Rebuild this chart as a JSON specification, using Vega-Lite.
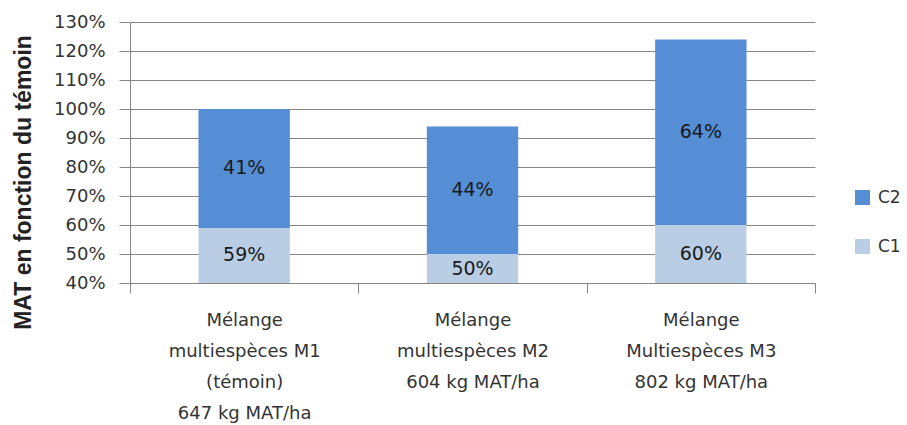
{
  "$schema": "https://vega.github.io/schema/vega-lite/v6.json",
  "width": 685,
  "height": 261,
  "autosize": {"type": "none"},
  "padding": {"left": 130, "top": 22, "right": 92, "bottom": 142},
  "background": "white",
  "config": {
    "font": "DejaVu Sans",
    "view": {"stroke": null},
    "axisY": {
      "title": "MAT en fonction  du témoin",
      "titleFont": "Liberation Sans",
      "titleFontSize": 23,
      "titleFontWeight": "bold",
      "titleColor": "#222222",
      "titleAngle": -90,
      "titleAlign": "center",
      "titleBaseline": "middle",
      "titleX": -107,
      "titleY": 160,
      "format": ".0%",
      "labelFontSize": 18,
      "labelColor": "#333333",
      "labelPadding": 14,
      "labelOverlap": false,
      "tickSize": 11,
      "tickColor": "#868686",
      "domainColor": "#868686",
      "gridColor": "#868686",
      "grid": true
    }
  },
  "data": {
    "values": [
      {"melange": "Mélange|multiespèces M1|(témoin)|647 kg MAT/ha", "coupe": "C1", "part": 0.59},
      {"melange": "Mélange|multiespèces M1|(témoin)|647 kg MAT/ha", "coupe": "C2", "part": 0.41},
      {"melange": "Mélange|multiespèces M2|604 kg MAT/ha", "coupe": "C1", "part": 0.50},
      {"melange": "Mélange|multiespèces M2|604 kg MAT/ha", "coupe": "C2", "part": 0.44},
      {"melange": "Mélange|Multiespèces M3|802 kg MAT/ha", "coupe": "C1", "part": 0.60},
      {"melange": "Mélange|Multiespèces M3|802 kg MAT/ha", "coupe": "C2", "part": 0.64}
    ]
  },
  "transform": [
    {"stack": "part", "groupby": ["melange"], "sort": [{"field": "coupe", "order": "ascending"}], "as": ["bas", "haut"]},
    {"calculate": "(max(datum.bas, 0.4) + datum.haut) / 2", "as": "milieu"}
  ],
  "encoding": {
    "x": {
      "field": "melange",
      "type": "nominal",
      "sort": null,
      "scale": {"paddingInner": 0, "paddingOuter": 0},
      "axis": {
        "title": null,
        "labelExpr": "datum.value ? split(datum.value, '|') : ''",
        "labelAngle": 0,
        "labelFontSize": 18,
        "labelLineHeight": 31,
        "labelBaseline": "top",
        "labelColor": "#333333",
        "labelLimit": 400,
        "labelOverlap": false,
        "labelPadding": 18,
        "tickBand": "extent",
        "tickSize": 10,
        "tickColor": "#868686",
        "domainColor": "#868686",
        "grid": false
      }
    }
  },
  "layer": [
    {
      "mark": {"type": "bar", "width": {"band": 0.4}},
      "encoding": {
        "y": {
          "field": "bas",
          "type": "quantitative",
          "scale": {"domain": [0.4, 1.3], "clamp": true, "nice": false, "zero": false},
          "axis": {"title": "MAT en fonction  du témoin", "values": [0.4, 0.5, 0.6, 0.7, 0.8, 0.9, 1.0, 1.1, 1.2, 1.3]}
        },
        "y2": {"field": "haut"},
        "color": {
          "field": "coupe",
          "type": "nominal",
          "scale": {"domain": ["C2", "C1"], "range": ["#558ED5", "#B9CDE5"]},
          "legend": {
            "orient": "none",
            "legendX": 724,
            "legendY": 167,
            "title": null,
            "padding": 0,
            "symbolType": "square",
            "symbolSize": 225,
            "symbolStrokeWidth": 0,
            "labelFontSize": 17,
            "labelColor": "#333333",
            "labelOffset": 7,
            "rowPadding": 31
          }
        }
      }
    },
    {
      "mark": {"type": "text", "fontSize": 19, "color": "#1a1a1a", "baseline": "middle"},
      "encoding": {
        "y": {
          "field": "milieu",
          "type": "quantitative",
          "scale": {"domain": [0.4, 1.3], "clamp": true, "nice": false, "zero": false},
          "axis": {"title": "MAT en fonction  du témoin", "values": [0.4, 0.5, 0.6, 0.7, 0.8, 0.9, 1.0, 1.1, 1.2, 1.3]}
        },
        "text": {"field": "part", "type": "quantitative", "format": ".0%"}
      }
    }
  ]
}
